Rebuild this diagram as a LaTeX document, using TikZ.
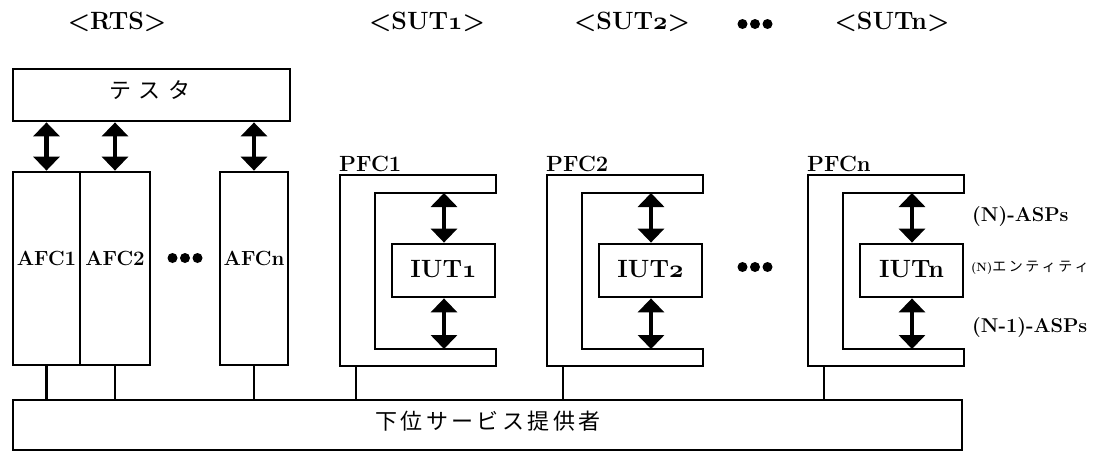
\RequirePackage{fix-cm}
\documentclass[tikz,border=0pt]{standalone}
\usepackage{fontspec}
\newfontfamily\jp{Noto Sans CJK JP}
\usetikzlibrary{arrows.meta}
\newcommand\osf[1]{{\fontencoding{OML}\fontfamily{cmm}\fontshape{it}\selectfont #1}}
\newcommand\fsz[1]{\fontsize{#1}{#1}\selectfont}
\begin{document}
\begin{tikzpicture}[x=1pt,y=-1pt,
  box/.style={draw,line width=2.8pt,inner sep=0pt},
  pfc/.style={draw,line width=2.8pt,line join=miter},
  conn/.style={line width=2.8pt},
  dbl/.style={line width=4.5pt,{Triangle[width=26pt,length=14pt]}-{Triangle[width=26pt,length=14pt]}},
  title/.style={font=\fsz{25}\bfseries,inner sep=0pt},
  afclbl/.style={font=\fsz{20.5}\bfseries,inner sep=0pt},
  iutlbl/.style={font=\fsz{25}\bfseries,inner sep=0pt},
  pfclbl/.style={font=\fsz{22}\bfseries,inner sep=0pt},
  side/.style={font=\fsz{20}\bfseries,inner sep=0pt,anchor=west},
  dot/.style={fill,circle,inner sep=0pt,minimum size=10pt}]
\path[use as bounding box] (0,0) rectangle (1110,455);

% titles
\node[title] (trts) at (117,22) {<RTS>};
\node[title] (tsut1) at (427,22) {<SUT\osf{1}>};
\node[title] (tsut2) at (632,22) {<SUT\osf{2}>};
\node[title] (tsutn) at (892,22) {<SUTn>};
\foreach \d [count=\j] in {-12.5,0,12.5} \node[dot] (td\j) at (755+\d,24) {};

% tester
\node[box,minimum width=277pt,minimum height=52pt] (tester) at (151.5,95) {};
\node[inner sep=0pt,font=\jp\fsz{22}] (testerlbl) at (150,90) {テ\hspace{8pt}ス\hspace{8pt}タ};

% lower service provider
\node[box,minimum width=949pt,minimum height=50pt] (bot) at (487.5,425) {};
\node[inner sep=0pt,font=\jp\fsz{22}] (botlbl) at (488,421)
  {下\hspace{3.5pt}位\hspace{3.5pt}サ\hspace{3.5pt}ー\hspace{3.5pt}ビ\hspace{3.5pt}ス\hspace{3.5pt}提\hspace{3.5pt}供\hspace{3.5pt}者};

% AFC boxes
\node[box,minimum width=67pt,minimum height=193pt] (afc1) at (46.5,268.5) {};
\node[box,minimum width=70pt,minimum height=193pt] (afc2) at (115,268.5) {};
\node[box,minimum width=68pt,minimum height=193pt] (afcn) at (254,268.5) {};
\node[afclbl] (afc1l) at ([yshift=10pt]afc1.center) {AFC1};
\node[afclbl] (afc2l) at ([yshift=10pt]afc2.center) {AFC2};
\node[afclbl] (afcnl) at ([yshift=10pt]afcn.center) {AFCn};
\foreach \d [count=\j] in {-12.5,0,12.5} \node[dot] (ad\j) at (185+\d,258) {};

\foreach \a in {afc1,afc2,afcn} {
  \draw[dbl] (tester.south -| \a.north) -- (\a.north);
  \draw[conn] (\a.south) -- (\a.south |- bot.north);
}

% PFC / IUT
\foreach \L/\k/\pl/\il in {340/1/{PFC1}/{IUT\osf{1}},547/2/{PFC2}/{IUT\osf{2}},808/n/{PFCn}/{IUTn}} {
  \draw[pfc] (\L,175) -- (\L+156,175) -- (\L+156,193) -- (\L+35,193) -- (\L+35,349)
     -- (\L+156,349) -- (\L+156,366) -- (\L,366) -- cycle;
  \coordinate (pa\k) at (\L+104,193);
  \coordinate (pb\k) at (\L+104,349);
  \coordinate (pc\k) at (\L+16,366);
  \node[box,minimum width=103pt,minimum height=53pt] (iut\k) at (\L+103.5,270.5) {};
  \node[iutlbl] (iutl\k) at ([yshift=1pt]iut\k.center) {\il};
  \node[pfclbl,anchor=south west] (pfcl\k) at (\L-1,172) {\pl};
  \draw[dbl] (pa\k) -- (pa\k |- iut\k.north);
  \draw[dbl] (iut\k.south -| pb\k) -- (pb\k);
  \draw[conn] (pc\k) -- (pc\k |- bot.north);
}
\foreach \d [count=\j] in {-12.5,0,12.5} \node[dot] (md\j) at (755+\d,267) {};

% side labels
\node[side] (nasp) at (972,217) {(N)-ASPs};
\node[side] (nent) at (971,268) {{\fsz{12}(N)}{\jp\mdseries\fsz{14}エ\hspace{2.5pt}ン\hspace{2.5pt}テ\hspace{2.5pt}ィ\hspace{2.5pt}テ\hspace{2.5pt}ィ}};
\node[side] (nm1asp) at (972,328) {(N-1)-ASPs};
\end{tikzpicture}
\end{document}
